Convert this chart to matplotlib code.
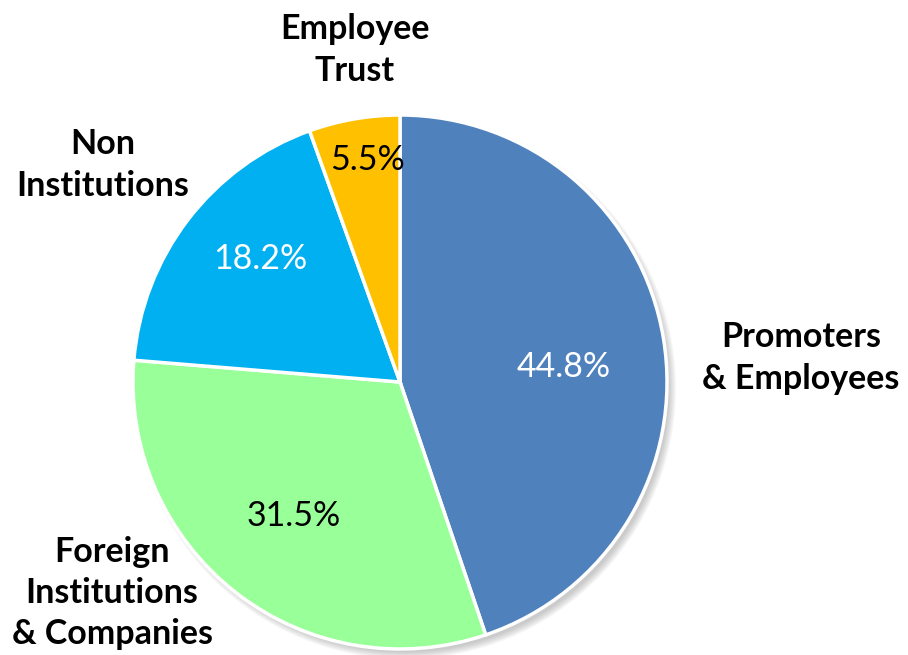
import matplotlib.pyplot as plt
from matplotlib.patches import Circle

# shareholding pattern
labels = ['Promoters\n& Employees', 'Foreign\nInstitutions\n& Companies',
          'Non\nInstitutions', 'Employee\nTrust']
shares = [44.8, 31.5, 18.2, 5.5]
colors = ['#4F81BD', '#99FF99', '#00B0F0', '#FFC000']
pct_colors = ['white', 'black', 'white', 'black']

# where the names and percentages sit (pixels)
label_xy = [(801, 297), (112, 62), (103, 490), (355, 605)]
pct_xy = [(564, 288), (294, 139), (260, 396), (367, 495)]

cx, cy, r = 400, 273, 267

fig = plt.figure(figsize=(9.08, 6.55), dpi=100)
ax = fig.add_axes([0, 0, 1, 1])

# soft shadow under the pie
for k in range(8):
    ax.add_patch(Circle((cx + 5, cy - 6), r + 4 - k, color='#808080',
                        alpha=0.06, lw=0, zorder=0))

wedges, _ = ax.pie(shares, colors=colors, startangle=90, counterclock=False,
                   center=(cx, cy), radius=r, explode=[0.02, 0, 0, 0],
                   wedgeprops=dict(edgecolor='white', linewidth=2.5))
for w in wedges:
    w.set_zorder(2)

for (x, y), s, c in zip(pct_xy, shares, pct_colors):
    ax.text(x, y, f'{s:.1f}%', ha='center', va='center', color=c,
            fontsize=24.5, family='Lato', zorder=3)

for (x, y), lab in zip(label_xy, labels):
    ax.text(x, y, lab, ha='center', va='center', fontsize=24.5,
            fontweight='bold', family='Lato', linespacing=1.36, zorder=3)

ax.set_xlim(0, 908)
ax.set_ylim(0, 655)
ax.set_aspect('equal')
ax.axis('off')

fig.savefig('out.png', dpi=100)
